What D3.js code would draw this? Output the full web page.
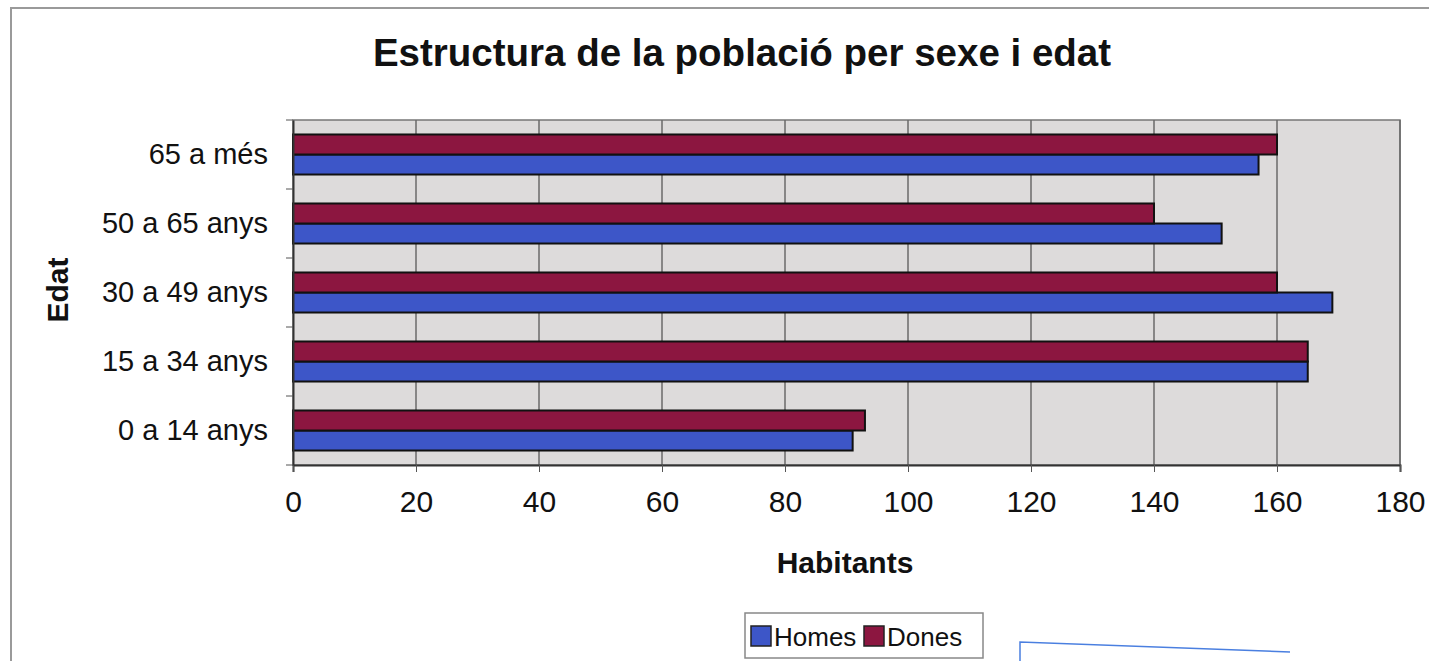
<!DOCTYPE html>
<html>
<head>
<meta charset="utf-8">
<script src="https://cdn.jsdelivr.net/npm/d3@7"></script>
<style>
  body { margin: 0; background: #fff; }
  svg text { font-family: Arial, "Liberation Sans", sans-serif; fill: #111; }
</style>
</head>
<body>
<div id="chart-container"></div>
<script>
// data
var categories = ["65 a més", "50 a 65 anys", "30 a 49 anys", "15 a 34 anys", "0 a 14 anys"];
var homes = [157, 151, 169, 165, 91];
var dones = [160, 140, 160, 165, 93];
var seriesNames = ["Homes", "Dones"];
var xTicks = [0, 20, 40, 60, 80, 100, 120, 140, 160, 180];

var colors = {"Homes": "#3d56c8", "Dones": "#8c1640"};

var W = 1429, H = 661;
var plot = {left: 293, right: 1400, top: 120, bottom: 465};

var svg = d3.select("#chart-container").append("svg")
    .attr("width", W)
    .attr("height", H);

// outer frame of the chart
svg.append("path")
    .attr("d", "M11,661 L11,8 L1429,8")
    .attr("fill", "none")
    .attr("stroke", "#9a9a9a")
    .attr("stroke-width", 2);

// scales
var x = d3.scaleLinear().domain([0, 180]).range([plot.left, plot.right]);
var y = d3.scaleBand().domain(categories).range([plot.top, plot.bottom])
    .paddingInner(0.42).paddingOuter(0.21);
var ySub = d3.scaleBand().domain(["Dones", "Homes"]).range([0, y.bandwidth()]);

// plot background
svg.append("rect")
    .attr("x", plot.left).attr("y", plot.top)
    .attr("width", plot.right - plot.left).attr("height", plot.bottom - plot.top)
    .attr("fill", "#dddbdb")
    .attr("stroke", "#777")
    .attr("stroke-width", 1.5);

// vertical gridlines
svg.append("g")
  .selectAll("line")
  .data(xTicks.slice(1))
  .join("line")
    .attr("x1", d => x(d)).attr("x2", d => x(d))
    .attr("y1", plot.top).attr("y2", plot.bottom)
    .attr("stroke", "#6a6a6a")
    .attr("stroke-width", 1.5);

// bars
var rows = [];
categories.forEach(function(c, i) {
  rows.push({cat: c, s: "Homes", v: homes[i]});
  rows.push({cat: c, s: "Dones", v: dones[i]});
});

svg.append("g")
  .selectAll("rect")
  .data(rows)
  .join("rect")
    .attr("x", x(0))
    .attr("y", d => y(d.cat) + ySub(d.s))
    .attr("width", d => x(d.v) - x(0))
    .attr("height", ySub.bandwidth())
    .attr("fill", d => colors[d.s])
    .attr("stroke", "#111")
    .attr("stroke-width", 2);

// x axis
var xAxis = svg.append("g")
    .attr("transform", "translate(0," + plot.bottom + ")")
    .call(d3.axisBottom(x).tickValues(xTicks).tickSize(7).tickPadding(19).tickFormat(d3.format("d")));
xAxis.select(".domain").attr("stroke", "#333").attr("stroke-width", 2);
xAxis.selectAll(".tick line").attr("stroke", "#555");
xAxis.selectAll("text").attr("font-size", 30).attr("fill", "#111");

// y axis: ticks between categories
var yAxis = svg.append("g")
    .attr("transform", "translate(" + plot.left + ",0)")
    .call(d3.axisLeft(y).tickSize(0).tickPadding(25));
yAxis.select(".domain").attr("stroke", "#333").attr("stroke-width", 2);
yAxis.selectAll("text").attr("font-size", 29).attr("fill", "#111");

var bounds = categories.map(c => y(c) - y.step() * y.paddingInner() / 2);
bounds.push(plot.bottom);
svg.append("g")
  .selectAll("line")
  .data(bounds)
  .join("line")
    .attr("x1", plot.left - 7).attr("x2", plot.left)
    .attr("y1", d => d).attr("y2", d => d)
    .attr("stroke", "#555");

// title
svg.append("text")
    .attr("x", 742).attr("y", 66)
    .attr("text-anchor", "middle")
    .attr("font-size", 38.5)
    .attr("font-weight", "bold")
    .text("Estructura de la població per sexe i edat");

// axis titles
svg.append("text")
    .attr("x", 845).attr("y", 573)
    .attr("text-anchor", "middle")
    .attr("font-size", 30)
    .attr("font-weight", "bold")
    .text("Habitants");

svg.append("text")
    .attr("transform", "translate(68,290) rotate(-90)")
    .attr("text-anchor", "middle")
    .attr("font-size", 30)
    .attr("font-weight", "bold")
    .text("Edat");

// legend
var legend = svg.append("g").attr("transform", "translate(745,613)");
legend.append("rect")
    .attr("width", 238).attr("height", 45)
    .attr("fill", "#fff")
    .attr("stroke", "#888")
    .attr("stroke-width", 1.5);

var item = legend.selectAll("g.item")
  .data(seriesNames)
  .join("g")
    .attr("class", "item")
    .attr("transform", (d, i) => "translate(" + (i === 0 ? 6 : 119) + ",0)");
item.append("rect")
    .attr("y", 13)
    .attr("width", 20).attr("height", 20)
    .attr("fill", d => colors[d])
    .attr("stroke", "#222")
    .attr("stroke-width", 1.5);
item.append("text")
    .attr("x", 23).attr("y", 33)
    .attr("font-size", 26)
    .text(d => d);

// edge of another box at the bottom right of the scan
svg.append("path")
    .attr("d", "M1020,661 L1020,642 L1290,652")
    .attr("fill", "none")
    .attr("stroke", "#4a7fe0")
    .attr("stroke-width", 1.5);
</script>
</body>
</html>
